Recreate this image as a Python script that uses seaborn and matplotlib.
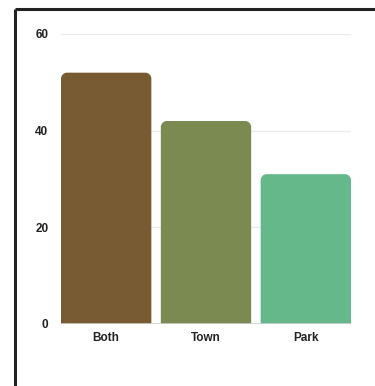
import matplotlib
matplotlib.use("Agg")
import matplotlib.pyplot as plt
import seaborn as sns
import pandas as pd
from matplotlib.path import Path
from matplotlib.patches import PathPatch
from matplotlib.lines import Line2D

categories = ["Both", "Town", "Park"]
values = [52, 42, 31]
colors = ["#785b33", "#7a8a50", "#64b88a"]
y_ticks = [0, 20, 40, 60]

sns.set_theme(style="white")
plt.rcParams["font.family"] = ["Liberation Sans", "DejaVu Sans"]

W, H = 375, 386
fig = plt.figure(figsize=(W / 100, H / 100), dpi=100)
ax_left, ax_right = 61 / W, 351 / W
ax_bottom, ax_top = 1 - 324 / H, 1 - 34 / H
ax = fig.add_axes([ax_left, ax_bottom, ax_right - ax_left, ax_top - ax_bottom])

df = pd.DataFrame({"category": categories, "value": values})
bar_width = 0.905
sns.barplot(data=df, x="category", y="value", hue="category", palette=colors,
            width=bar_width, legend=False, ax=ax, saturation=1)

ax.set_xlim(-bar_width / 2, 2 + bar_width / 2)
ax.set_ylim(0, 60)
ax.set_yticks(y_ticks)
ax.set_xlabel("")
ax.set_ylabel("")
for s in ax.spines.values():
    s.set_visible(False)
ax.grid(axis="y", color="#ebebeb", linewidth=1)
ax.set_axisbelow(True)
ax.tick_params(axis="both", length=0, labelsize=8.5, colors="#222222")
ax.tick_params(axis="y", pad=9)
ax.tick_params(axis="x", pad=6)
for lab in ax.get_xticklabels() + ax.get_yticklabels():
    lab.set_fontweight("semibold")
ax.axhline(0, color="#d0d0d0", linewidth=1.2, zorder=3)

# Replace each bar by a shape with rounded top corners
fig.canvas.draw()
px_per_x = ax.bbox.width / (ax.get_xlim()[1] - ax.get_xlim()[0])
px_per_y = ax.bbox.height / (ax.get_ylim()[1] - ax.get_ylim()[0])
radius_px = 6
rx, ry = radius_px / px_per_x, radius_px / px_per_y
k = 0.5523
for patch in list(ax.patches):
    x0, y0 = patch.get_x(), patch.get_y()
    w, h = patch.get_width(), patch.get_height()
    x1, y1 = x0 + w, y0 + h
    verts = [
        (x0, y0), (x0, y1 - ry),
        (x0, y1 - ry + k * ry), (x0 + rx - k * rx, y1), (x0 + rx, y1),
        (x1 - rx, y1),
        (x1 - rx + k * rx, y1), (x1, y1 - ry + k * ry), (x1, y1 - ry),
        (x1, y0), (x0, y0),
    ]
    codes = [Path.MOVETO, Path.LINETO,
             Path.CURVE4, Path.CURVE4, Path.CURVE4,
             Path.LINETO,
             Path.CURVE4, Path.CURVE4, Path.CURVE4,
             Path.LINETO, Path.CLOSEPOLY]
    rounded = PathPatch(Path(verts, codes), facecolor=patch.get_facecolor(),
                        edgecolor="none", zorder=2)
    patch.remove()
    ax.add_patch(rounded)

# Frame around the panel (top and left edges)
fig.add_artist(Line2D([15 / W, 1], [1 - 9 / H, 1 - 9 / H], color="#222222",
                      linewidth=2.2, solid_capstyle="butt"))
fig.add_artist(Line2D([15 / W, 15 / W], [0, 1 - 9 / H], color="#222222",
                      linewidth=2.2, solid_capstyle="butt"))

fig.savefig("out.png", dpi=100)
